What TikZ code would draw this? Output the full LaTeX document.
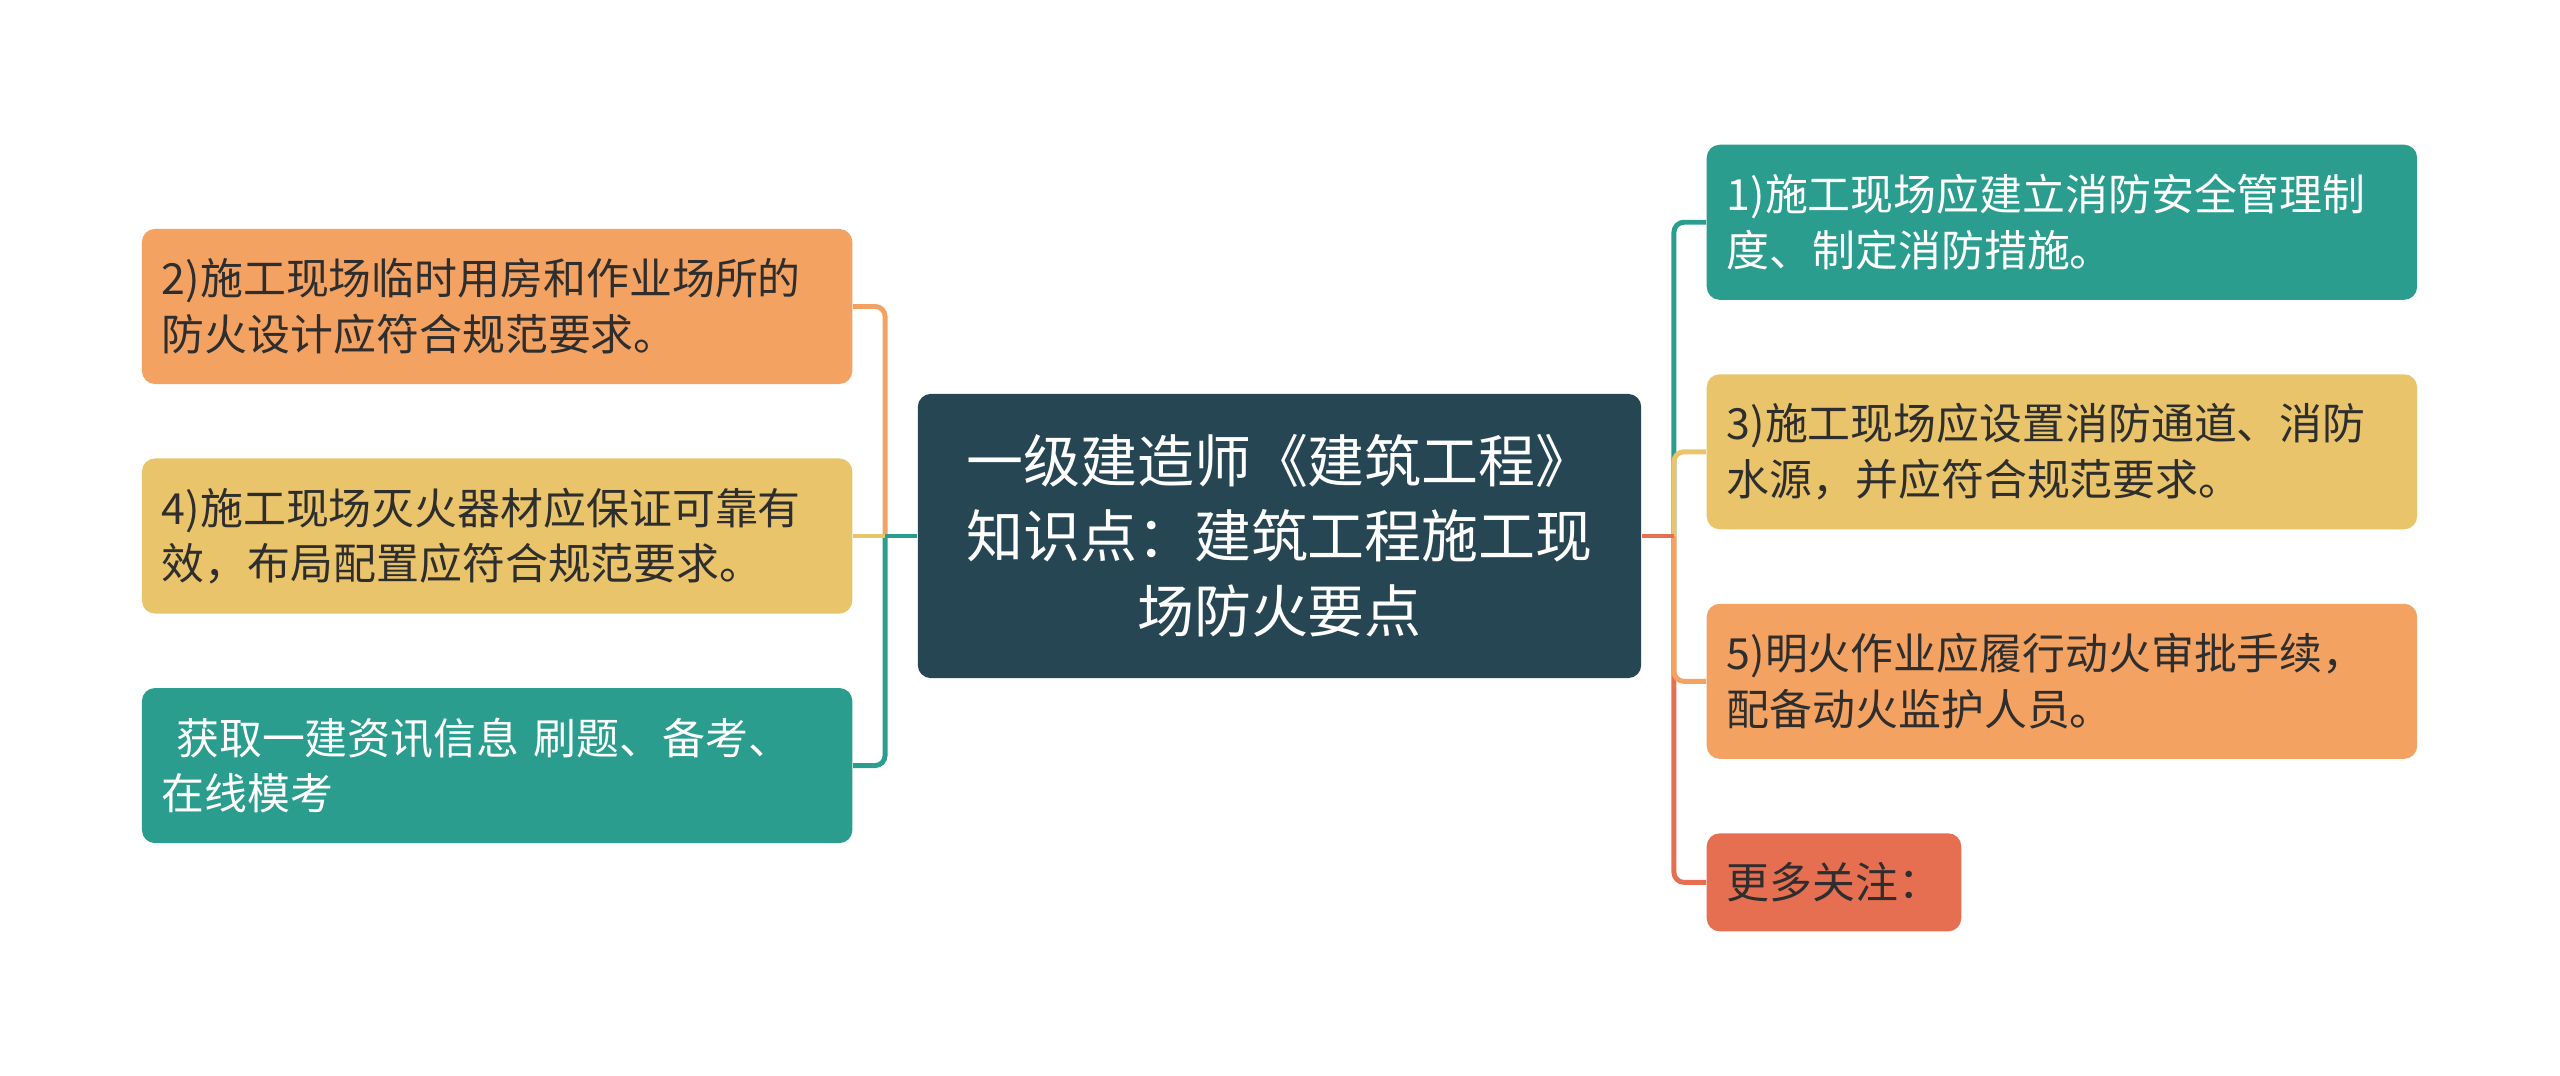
\documentclass[tikz,border=0pt]{standalone}
\usepackage{fontspec}
\setmainfont{Noto Sans CJK SC}
\usepackage{xcolor}
\usepackage{tikz}
\usetikzlibrary{positioning,calc}
\definecolor{MapDark}{HTML}{264653}
\definecolor{MapTeal}{HTML}{2A9D8F}
\definecolor{MapYellow}{HTML}{E9C46A}
\definecolor{MapOrange}{HTML}{F4A261}
\definecolor{MapRed}{HTML}{E76F51}
\definecolor{MapInk}{HTML}{2E2E2E}

\begin{document}
\begin{tikzpicture}[
	x=0.01cm, y=-0.01cm,
	node distance=7.3mm and 6.4mm,
	base/.style={rounded corners=1.3mm, inner xsep=2mm, inner ysep=0pt, text=MapInk,
		font=\fontsize{12.2pt}{15.8pt}\selectfont},
	leaf/.style={base, text width=67mm, minimum height=15.5mm, align=left},
	tag/.style={base, minimum height=9.8mm},
	hub/.style={rounded corners=1.3mm, fill=MapDark, text=white, align=center,
		minimum width=72.3mm, minimum height=28.4mm, inner sep=0pt,
		font=\fontsize{16.2pt}{21.3pt}\selectfont},
	link/.style={line width=1.4pt, rounded corners=1mm}
]
\useasboundingbox (0,0) rectangle (2560,1075);

\node[hub] (topic) at (1279.5,536) {一级建造师《建筑工程》\\知识点：建筑工程施工现\\场防火要点};

% left branch
\node[leaf, fill=MapYellow, left=of topic] (fire4) {4)施工现场灭火器材应保证可靠有\\效，布局配置应符合规范要求。};
\node[leaf, fill=MapOrange, above=of fire4] (fire2) {2)施工现场临时用房和作业场所的\\防火设计应符合规范要求。};
\node[leaf, fill=MapTeal, text=white, below=of fire4] (info) {~获取一建资讯信息 刷题、备考、\\在线模考};

% right branch
\node[leaf, fill=MapTeal, text=white, anchor=north west] (fire1) at (1706,144) {1)施工现场应建立消防安全管理制\\度、制定消防措施。};
\node[leaf, fill=MapYellow, below=of fire1] (fire3) {3)施工现场应设置消防通道、消防\\水源，并应符合规范要求。};
\node[leaf, fill=MapOrange, below=of fire3] (fire5) {5)明火作业应履行动火审批手续，\\配备动火监护人员。};
\node[tag, fill=MapRed, below=of fire5.south west, anchor=north west] (more) {更多关注：};

\coordinate (lj) at ($(topic.west)!0.5!(fire4.east)$);
\coordinate (rj) at ($(topic.east)+(3.2mm,0)$);

\draw[link, MapOrange] (fire2.east) -| (lj);
\draw[link, MapTeal] (info.east) -| (lj);
\draw[link, MapYellow] (fire4.east) -- (lj);
\draw[link, MapTeal] (topic.west) -- (lj);

\draw[link, MapTeal] (fire1.west) -| (rj);
\draw[link, MapRed] (more.west) -| (rj);
\draw[link, MapOrange] (fire5.west) -| (rj);
\draw[link, MapYellow] (fire3.west) -| (rj);
\draw[link, MapRed] (topic.east) -- (rj);
\end{tikzpicture}
\end{document}
